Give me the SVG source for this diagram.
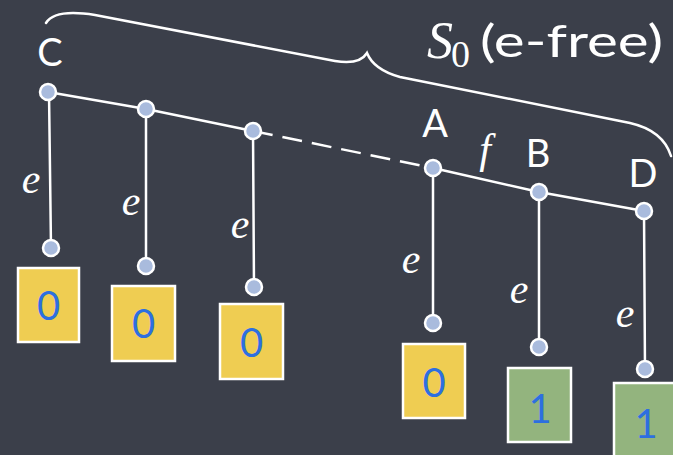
<svg xmlns="http://www.w3.org/2000/svg" width="673" height="455" viewBox="0 0 673 455">
<style>
.ln{stroke:#ffffff;stroke-width:2.5;fill:none;stroke-linecap:round}
.dash{stroke:#ffffff;stroke-width:2.5;fill:none;stroke-dasharray:20 10}
.nd{fill:#a9bbdd;stroke:#ffffff;stroke-width:2.5}
.lbl{font-family:"Lato","Noto Sans",sans-serif;font-size:38px;fill:#ffffff;text-anchor:middle}
.it{font-family:"Liberation Serif",serif;font-style:italic;font-size:42px;fill:#ffffff;text-anchor:middle}
.by{fill:#efcd52;stroke:#ffffff;stroke-width:2.5}
.bg{fill:#93b47e;stroke:#ffffff;stroke-width:2.5}
.dg{font-family:"Lato","Noto Sans",sans-serif;font-size:40px;fill:#2d6fe0;text-anchor:middle}
</style>
<rect width="673" height="455" fill="#3b3f4a"/>
<g id="brace">
<path class="ln" d="M46,23 C52,13 70,11 95,15 L335,61 C352,64 362,61 367,53 C371,63 382,72 400,77 L630,123 C652,128 666,140 671,156"/>
<text x="427" y="58" font-family="Liberation Serif,serif" font-style="italic" font-size="52" fill="#ffffff">S</text>
<text x="451" y="67" font-family="Liberation Serif,serif" font-size="38" fill="#ffffff">0</text>
<text x="480" y="57" font-family="Lato,Noto Sans,sans-serif" font-size="44" fill="#ffffff" textLength="183" lengthAdjust="spacingAndGlyphs">(e-free)</text>
</g>
<g id="connectors">
<line class="ln" x1="48" y1="92" x2="146" y2="109"/>
<line class="ln" x1="146" y1="109" x2="253" y2="131"/>
<line class="dash" x1="253" y1="131" x2="433" y2="168"/>
<line class="ln" x1="433" y1="168" x2="539" y2="192"/>
<line class="ln" x1="539" y1="192" x2="644" y2="211"/>
<line class="ln" x1="49" y1="92" x2="51" y2="248"/>
<line class="ln" x1="146" y1="109" x2="146" y2="266"/>
<line class="ln" x1="253" y1="131" x2="254" y2="287"/>
<line class="ln" x1="433" y1="168" x2="433" y2="323"/>
<line class="ln" x1="539" y1="192" x2="539" y2="347"/>
<line class="ln" x1="644" y1="211" x2="645" y2="369"/>
<text class="it" x="31" y="193">e</text>
<text class="it" x="131" y="215">e</text>
<text class="it" x="240" y="238">e</text>
<text class="it" x="411" y="273">e</text>
<text class="it" x="519" y="303">e</text>
<text class="it" x="625" y="327">e</text>
<text class="it" x="485" y="163" font-size="40">f</text>
</g>
<g id="C"><circle class="nd" cx="48" cy="92" r="8"/><text class="lbl" x="50" y="66">C</text></g>
<g id="n2"><circle class="nd" cx="146" cy="109" r="8"/></g>
<g id="n3"><circle class="nd" cx="253" cy="131" r="8"/></g>
<g id="A"><circle class="nd" cx="433" cy="168" r="8"/><text class="lbl" x="435" y="137">A</text></g>
<g id="B"><circle class="nd" cx="539" cy="192" r="8"/><text class="lbl" x="538" y="167">B</text></g>
<g id="D"><circle class="nd" cx="644" cy="211" r="8"/><text class="lbl" x="643" y="187">D</text></g>
<g id="leaf1"><circle class="nd" cx="51" cy="248" r="8"/><rect class="by" x="18" y="268" width="61" height="74"/><text class="dg" x="48.5" y="320">0</text></g>
<g id="leaf2"><circle class="nd" cx="146" cy="266" r="8"/><rect class="by" x="112" y="286" width="63" height="75"/><text class="dg" x="143.5" y="338">0</text></g>
<g id="leaf3"><circle class="nd" cx="254" cy="287" r="8"/><rect class="by" x="220" y="304" width="63" height="75"/><text class="dg" x="251.5" y="357">0</text></g>
<g id="leaf4"><circle class="nd" cx="433" cy="323" r="8"/><rect class="by" x="403" y="344" width="62" height="74"/><text class="dg" x="434" y="397">0</text></g>
<g id="leaf5"><circle class="nd" cx="539" cy="347" r="8"/><rect class="bg" x="508" y="368" width="63" height="74"/><text class="dg" x="540" y="423">1</text></g>
<g id="leaf6"><circle class="nd" cx="645" cy="369" r="8"/><rect class="bg" x="614" y="383" width="63" height="76"/><text class="dg" x="646" y="438">1</text></g>
</svg>
